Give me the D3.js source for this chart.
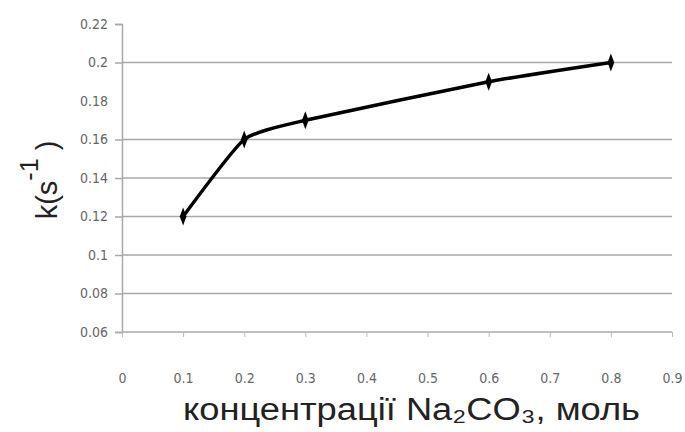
<!DOCTYPE html>
<html>
<head>
<meta charset="utf-8">
<script src="https://cdn.jsdelivr.net/npm/d3@7"></script>
<style>
  html, body { margin: 0; padding: 0; background: #fff; }
  svg { display: block; }
</style>
</head>
<body>
<svg id="chart" width="685" height="432"></svg>
<script>
// Rate constant k versus Na2CO3 concentration
const concentration = [0.1, 0.2, 0.3, 0.6, 0.8];
const rateK = [0.12, 0.16, 0.17, 0.19, 0.2];
const xTicks = [0, 0.1, 0.2, 0.3, 0.4, 0.5, 0.6, 0.7, 0.8, 0.9];
const yTicks = [0.06, 0.08, 0.1, 0.12, 0.14, 0.16, 0.18, 0.2, 0.22];
const yGridValues = [0.06, 0.08, 0.1, 0.12, 0.14, 0.16, 0.2];
const xTitle = "концентрації Na₂CO₃, моль";

const svg = d3.select("#chart");
const plotLeft = 122, plotRight = 672, plotTop = 24, plotBottom = 332;

const x = d3.scaleLinear().domain([0, 0.9]).range([plotLeft, plotRight]);
const y = d3.scaleLinear().domain([0.06, 0.22]).range([plotBottom, plotTop]);

const gridColor = "#a8a8a8";
const labelFont = "'Liberation Sans Narrow', 'DejaVu Sans Condensed', sans-serif";

// horizontal gridlines
svg.append("g").selectAll("line").data(yGridValues).join("line")
  .attr("x1", plotLeft).attr("x2", plotRight)
  .attr("y1", d => y(d)).attr("y2", d => y(d))
  .attr("stroke", gridColor).attr("stroke-width", 1.5);

// y axis
const yAxis = d3.axisLeft(y).tickValues(yTicks).tickSize(7).tickPadding(7)
  .tickFormat(d => String(+d.toFixed(2)));
const gy = svg.append("g").attr("transform", `translate(${plotLeft},0)`).call(yAxis);
gy.select(".domain").attr("stroke", gridColor).attr("stroke-width", 1.5);
gy.selectAll(".tick line").attr("stroke", gridColor).attr("stroke-width", 1.5)
  .filter(d => d === 0.18).remove();
gy.selectAll(".tick text").attr("fill", "#666").attr("font-size", 14)
  .attr("font-family", labelFont);

// x axis
const xAxis = d3.axisBottom(x).tickValues(xTicks).tickSize(5).tickPadding(36)
  .tickFormat(d => String(+d.toFixed(1)));
const gx = svg.append("g").attr("transform", `translate(0,${plotBottom})`).call(xAxis);
gx.select(".domain").remove();
gx.selectAll(".tick line").attr("stroke", "#bbb").attr("stroke-width", 1);
gx.selectAll(".tick text").attr("fill", "#666").attr("font-size", 14)
  .attr("font-family", labelFont);

// data line
const line = d3.line()
  .x((d, i) => x(concentration[i]))
  .y(d => y(d))
  .curve(d3.curveCardinal.tension(0.5));
svg.append("path").datum(rateK)
  .attr("d", line)
  .attr("fill", "none").attr("stroke", "#000").attr("stroke-width", 3.5)
  .attr("stroke-linejoin", "round");

// diamond markers
svg.append("g").selectAll("path").data(rateK).join("path")
  .attr("d", d3.symbol(d3.symbolDiamond, 60))
  .attr("transform", (d, i) => `translate(${x(concentration[i])},${y(d)}) scale(0.8,1.25)`)
  .attr("fill", "#000");

// y title: k(s^-1)
const yt = svg.append("text")
  .attr("transform", "translate(57,180) rotate(-90)")
  .attr("text-anchor", "middle")
  .attr("font-family", "'Liberation Sans', Arial, sans-serif")
  .attr("font-size", 29).attr("fill", "#222");
yt.append("tspan").text("k(s");
yt.append("tspan").attr("dy", -19).attr("font-size", 25).text("-1");
yt.append("tspan").attr("dy", 19).text(" )");

// x title
svg.append("text")
  .attr("x", 183).attr("y", 420)
  .attr("textLength", 457).attr("lengthAdjust", "spacingAndGlyphs")
  .attr("font-family", "'Liberation Sans', Arial, sans-serif")
  .attr("font-size", 31).attr("fill", "#222")
  .text(xTitle);
</script>
</body>
</html>
